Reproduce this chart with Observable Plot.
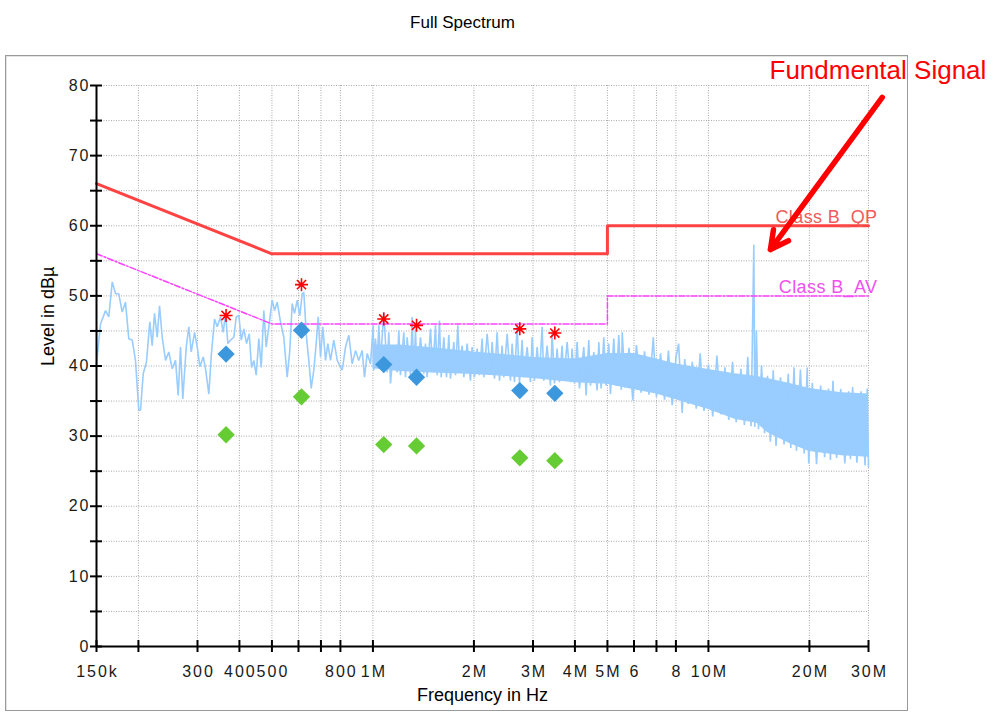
<!DOCTYPE html>
<html><head><meta charset="utf-8">
<script src="https://cdn.jsdelivr.net/npm/d3@7"></script>
<script src="https://cdn.jsdelivr.net/npm/@observablehq/plot@0.6"></script>
<style>
body{margin:0;background:#fff;}
#wrap{position:relative;width:993px;height:713px;overflow:hidden;}
#frame{position:absolute;left:5px;top:55px;width:901px;height:654px;border:1px solid #9a9a9a;box-shadow:inset 1px 1px 0 #e4e4e4;}
#chart{position:absolute;left:0;top:0;}
#chart svg{overflow:visible;}
</style></head>
<body><div id="wrap"><div id="frame"></div><div id="chart"></div></div>
<script>
// ---- text ----
const titleText = "Full Spectrum";
const xTitle = "Frequency in Hz";
const yTitle = "Level in dBµ";
const annotationText = "Fundmental Signal";
const limitNames = ["Class B_QP", "Class B_AV"];

// ---- axes (frequency in kHz) ----
const xTicks = [150,200,300,400,500,600,700,800,1000,2000,3000,4000,5000,6000,7000,8000,10000,20000,30000];
const xTickLabels = ["150k","","300","400","500","","","800","1M","2M","3M","4M","5M","6","","8","10M","20M","30M"];
const xGrid = [200,300,400,500,600,700,800,1000,2000,3000,4000,5000,6000,7000,8000,10000,20000,30000];
const yTicks = [0,5,10,15,20,25,30,35,40,45,50,55,60,65,70,75,80];
const yLabels = [0,10,20,30,40,50,60,70,80];
const yGrid = [5,10,15,20,25,30,35,40,45,50,55,60,65,70,75,80];

// ---- limit lines ----
const qpLimit = [[150,66],[500,56],[5000,56],[5000,60],[30000,60]];
const avLimit = [[150,56],[500,46],[5000,46],[5000,50],[30000,50]];

// ---- final measurement markers ----
const markerFreq = [365, 612.5, 1077, 1349, 2740, 3485];
const peakLevel  = [47.2, 51.6, 46.7, 45.8, 45.3, 44.7];
const qpLevel    = [41.7, 45.1, 40.2, 38.4, 36.5, 36.1];
const avLevel    = [30.2, 35.6, 28.8, 28.6, 26.9, 26.5];

// ---- spectrum trace, 150 kHz .. 1 MHz: [kHz, dBµV] ----
const spectrumLow = [[150,40.3],[154.2,46.0],[159.6,47.9],[163.2,47.0],[167.1,52.0],[170.9,50.3],[174.8,50.3],[178.9,47.7],[183.0,49.1],[187.2,43.9],[191.7,43.7],[196.0,40.8],[200.5,33.7],[202.9,33.7],[206.7,38.9],[211.4,40.6],[216.3,46.3],[219.8,42.9],[223.4,47.5],[227.5,44.1],[231.2,48.6],[235.5,44.1],[240.9,40.8],[246.4,42.0],[252.2,39.6],[258.0,40.8],[262.8,35.8],[267.0,42.7],[271.2,35.3],[277.7,42.7],[282.7,45.6],[287.4,42.0],[294.0,44.8],[299.5,42.7],[304.9,39.9],[312.1,41.3],[317.0,39.6],[324.3,36.0],[329.7,41.5],[337.2,46.7],[343.5,45.6],[351.4,47.0],[357.9,44.8],[363.7,47.5],[369.5,43.2],[376.4,43.7],[385.0,44.1],[391.4,47.0],[398.5,47.2],[405.1,43.7],[412.4,45.3],[420.1,43.2],[427.9,44.6],[434.7,39.8],[441.7,40.8],[448.8,38.7],[457.0,43.9],[464.5,39.8],[472.9,47.9],[480.7,42.7],[489.4,45.6],[500.9,49.4],[509.0,47.9],[518.4,49.1],[530.3,46.3],[542.5,44.1],[555.2,38.4],[565.2,42.2],[574.6,48.9],[583.9,47.5],[594.7,49.4],[605.5,47.2],[615.4,50.3],[622.3,50.5],[633.9,44.1],[644.0,40.8],[654.6,36.8],[666.5,39.4],[677.5,43.2],[686.9,47.0],[698.0,41.3],[709.0,45.6],[722.3,40.8],[733.7,43.2],[747.5,40.8],[764.6,43.7],[782.8,40.8],[800.7,39.8],[809.9,39.4],[828.6,42.7],[847.4,44.4],[867.4,40.3],[887.3,42.2],[907.6,40.8],[928.9,42.2],[943.8,38.4],[961.6,41.8],[983.5,40.3],[1001.9,45.8]];

// ---- spectrum trace above 1 MHz (peak / dip excursions): [kHz, dBµV] ----
const spectrumHigh = [[1006.2,39.4],[1017.7,43.9],[1029.4,40.1],[1041.3,45.8],[1053.3,40.6],[1077.6,47.7],[1102.6,39.1],[1115.2,44.8],[1128.1,37.5],[1154.2,42.9],[1180.9,39.1],[1194.4,45.1],[1208.2,38.7],[1236.1,44.8],[1250.4,38.4],[1264.8,44.1],[1294.0,38.7],[1308.9,47.0],[1324.0,38.2],[1339.2,45.3],[1354.6,38.0],[1385.9,44.1],[1418.0,38.9],[1434.3,43.2],[1450.8,38.4],[1484.4,45.3],[1508.3,39.1],[1536.2,45.8],[1553.8,38.7],[1578.9,46.5],[1597.1,38.4],[1626.6,44.1],[1656.6,38.4],[1683.4,44.4],[1702.7,38.2],[1742.1,43.4],[1762.2,38.7],[1790.6,45.8],[1815.5,39.4],[1844.6,42.9],[1865.9,38.4],[1909.0,43.2],[1953.2,37.9],[1975.7,42.7],[2007.5,38.4],[2044.6,42.5],[2077.6,38.7],[2116.0,43.9],[2140.4,38.4],[2189.9,44.6],[2240.6,39.1],[2266.3,43.4],[2302.9,38.2],[2345.4,44.8],[2383.3,37.9],[2427.3,42.9],[2455.2,38.4],[2512.0,44.6],[2570.2,37.9],[2599.7,43.2],[2641.7,37.7],[2690.5,45.8],[2733.9,37.5],[2784.4,43.7],[2816.4,38.4],[2881.6,42.7],[2948.3,37.7],[2982.2,44.1],[3030.3,37.9],[3086.3,42.7],[3136.1,38.7],[3194.0,45.6],[3230.7,37.9],[3305.5,42.9],[3382.0,37.2],[3420.9,44.8],[3476.1,37.5],[3540.3,42.5],[3597.4,37.7],[3663.9,42.9],[3706.0,37.9],[3791.8,43.4],[3879.5,37.7],[3924.1,42.5],[3987.4,37.5],[4061.1,43.4],[4126.7,36.8],[4251.2,42.7],[4319.8,35.8],[4399.6,43.7],[4450.2,37.2],[4553.2,42.0],[4658.5,36.5],[4712.1,43.4],[4788.1,36.8],[4876.6,44.1],[4955.4,37.2],[5046.8,43.2],[5104.8,36.0],[5222.9,43.9],[5307.1,37.2],[5405.2,44.4],[5500,36.6],[5534,44.8],[5650,36.9],[5800,42.6],[5950,35.1],[6100,43.0],[6300,36.2],[6450,42.1],[6650,35.9],[6850,44.1],[7000,35.6],[7200,41.8],[7400,35.2],[7600,42.2],[7800,34.4],[8000,41.2],[8150,43.2],[8350,33.3],[8500,41.0],[8700,34.6],[8950,40.6],[9200,33.9],[9450,41.8],[9700,33.6],[10000,40.2],[10300,32.8],[10600,41.5],[10900,33.1],[11200,39.8],[11500,32.3],[11800,40.6],[12100,32.0],[12500,39.6],[12800,31.6],[13100,41.3],[13400,31.4],[13656,57.3],[13750,31.3],[13900,45.1],[14100,31.0],[14400,40.1],[14700,30.4],[15000,38.6],[15300,29.2],[15600,39.4],[15900,28.6],[16400,38.4],[16800,28.8],[17300,38.9],[17600,28.3],[18000,39.8],[18300,27.9],[18800,39.5],[19300,27.5],[19700,39.8],[19900,26.1],[20400,37.6],[21000,26.0],[21600,37.2],[22200,27.0],[22800,36.8],[23100,26.6],[23500,37.9],[24100,26.9],[24800,36.7],[25500,26.1],[26200,36.4],[26500,26.7],[26900,37.0],[27700,26.2],[28500,36.4],[29300,25.8],[29742,36.8],[30000,25.6]];

// ---- dense body of the trace above 1 MHz: [kHz, low, high] ----
const spectrumBand = [[1000,39.6,43.0],[1200,39.2,43.0],[1500,39.0,42.6],[2000,38.8,42.0],[2500,38.5,41.6],[3000,38.2,41.2],[4000,37.6,41.0],[5000,37.4,41.8],[6000,36.6,41.8],[7000,36.0,41.0],[8000,35.2,40.3],[10000,33.8,39.5],[12000,32.4,38.9],[14000,31.8,38.5],[15000,30.5,38.2],[17500,28.9,37.5],[20000,27.8,36.8],[25000,27.2,36.2],[30000,27.0,36.0]];

// ---- annotation: arrow [x1, y1, x2, y2] and text anchor [x, y] ----
const annotationArrow = [[32970, 78.3, 15300, 56.6]];
const annotationPos = [15210, 82.1];

const traceColor = "#99ccff";
const star8 = {draw(ctx, size){const r=Math.sqrt(size/Math.PI), d=r*0.7071;
  ctx.moveTo(0,-r);ctx.lineTo(0,r);ctx.moveTo(-r,0);ctx.lineTo(r,0);
  ctx.moveTo(-d,-d);ctx.lineTo(d,d);ctx.moveTo(-d,d);ctx.lineTo(d,-d);}};

const markers = markerFreq.map((f,i)=>({f, pk: peakLevel[i], qp: qpLevel[i], av: avLevel[i]}));
const xLab = xTicks.map((t,i)=>({t, s: xTickLabels[i]})).filter(d=>d.s);
const gridStyle = {stroke:"#a9a9a9", strokeWidth:1, strokeDasharray:"1,1.5"};
const trace = spectrumLow.concat(spectrumHigh);

const chart = Plot.plot({
  width: 993, height: 713,
  marginLeft: 96, marginRight: 125, marginTop: 85, marginBottom: 67,
  x: {type: "log", domain: [150, 30000], axis: null},
  y: {domain: [0, 80], axis: null},
  style: {fontFamily: "'Liberation Sans', Arial, sans-serif", fontSize: "16px", background: "transparent", overflow: "visible"},
  marks: [
    Plot.ruleX(xGrid, gridStyle),
    Plot.ruleY(yGrid, gridStyle),
    Plot.areaY(spectrumBand, {x: d=>d[0], y1: d=>d[1], y2: d=>d[2], fill: traceColor}),
    Plot.line(trace, {x: d=>d[0], y: d=>d[1], stroke: traceColor, strokeWidth: 1.6, strokeLinejoin: "miter"}),
    Plot.line(qpLimit, {x: d=>d[0], y: d=>d[1], stroke: "#ff4343", strokeWidth: 3}),
    Plot.line(avLimit, {x: d=>d[0], y: d=>d[1], stroke: "#ff40ff", strokeWidth: 1.5, strokeDasharray: "6,2,2,2"}),
    Plot.text([qpLimit[qpLimit.length-1]], {x: d=>d[0], y: d=>d[1], text: ()=>limitNames[0], textAnchor: "end", lineAnchor: "bottom", dx: 9, dy: -3, fill: "#f05a5a", fontSize: 18}),
    Plot.text([avLimit[avLimit.length-1]], {x: d=>d[0], y: d=>d[1], text: ()=>limitNames[1], textAnchor: "end", lineAnchor: "bottom", dx: 9, dy: -3, fill: "#f050f0", fontSize: 18}),
    Plot.dot(markers, {x: "f", y: "av", symbol: "diamond2", r: 7.8, fill: "#66cc33", stroke: "none"}),
    Plot.dot(markers, {x: "f", y: "qp", symbol: "diamond2", r: 7.8, fill: "#3d97dc", stroke: "none"}),
    Plot.dot(markers, {x: "f", y: "pk", symbol: star8, r: 6.5, fill: "none", stroke: "#ff0000", strokeWidth: 1.6}),
    // axes
    Plot.ruleX([150], {stroke: "#000", strokeWidth: 2}),
    Plot.ruleY([0], {stroke: "#000", strokeWidth: 2}),
    Plot.ruleX(xTicks, {x: d=>d, y1: 0, y2: 0, insetTop: 6, insetBottom: 6, stroke: "#000", strokeWidth: 2}),
    Plot.ruleY(yTicks, {y: d=>d, x1: 150, x2: 150, insetLeft: 6, insetRight: 6, stroke: "#000", strokeWidth: 2}),
    Plot.text(xLab, {x: "t", y: 0, text: "s", dy: 25, dx: 1, lineAnchor: "middle", fill: "#1a1a1a"}),
    Plot.text(yLabels, {x: 150, y: d=>d, text: d=>String(d), textAnchor: "end", dx: -6, fill: "#1a1a1a"}),
    Plot.text([yTitle], {frameAnchor: "left", rotate: -90, dx: -48, fontSize: 18, fill: "#000"}),
    Plot.text([xTitle], {frameAnchor: "bottom", dy: 54, fontSize: 18, fill: "#000"}),
    Plot.text([titleText], {frameAnchor: "top", dy: -70, dx: -20, fontSize: 17, fill: "#000"}),
    // annotation
    Plot.arrow(annotationArrow, {x1: d=>d[0], y1: d=>d[1], x2: d=>d[2], y2: d=>d[3], stroke: "#ff0000", strokeWidth: 5.5, headLength: 5.5, headAngle: 55}),
    Plot.text([annotationPos], {x: d=>d[0], y: d=>d[1], text: ()=>annotationText, textAnchor: "start", fill: "#ff0000", fontSize: 26})
  ]
});
document.getElementById("chart").appendChild(chart);

// letter-spaced tick labels, like the analyser's bitmap font
const tickLabelSet = new Set(xTickLabels.filter(s=>s).concat(yLabels.map(String)));
d3.select(chart).selectAll("text")
  .filter(function(){ return tickLabelSet.has(this.textContent); })
  .style("letter-spacing", "2px");
d3.select(chart).selectAll("text")
  .filter(function(){ return limitNames.includes(this.textContent); })
  .style("letter-spacing", "0.4px");
</script></body></html>
